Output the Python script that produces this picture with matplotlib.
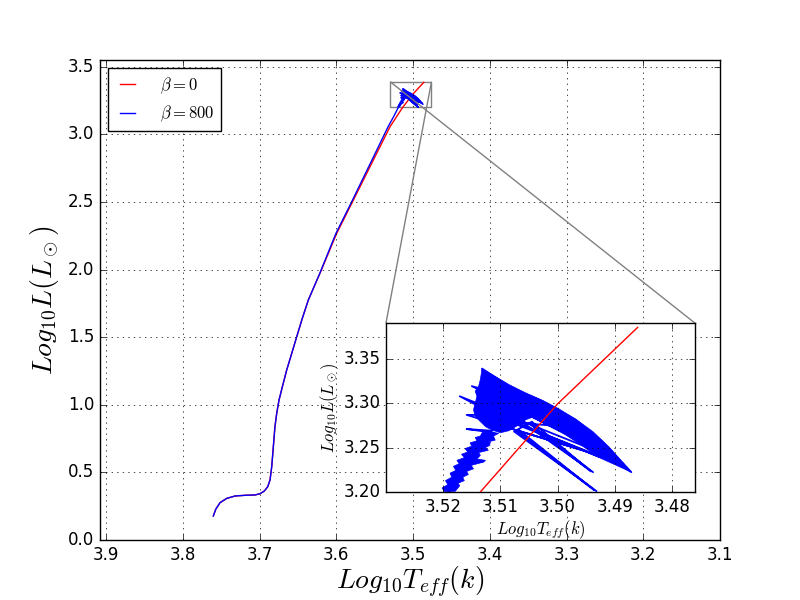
import numpy as np
import matplotlib
matplotlib.use('Agg')
import matplotlib.pyplot as plt
from mpl_toolkits.axes_grid1.inset_locator import mark_inset

plt.style.use('classic')

# beta = 0 track
teff_0 = [3.7603, 3.7572, 3.7516, 3.7428, 3.7320, 3.7190, 3.7060, 3.6994, 3.6938,
          3.6894, 3.6864, 3.6842, 3.6821, 3.6800, 3.6777, 3.6747, 3.6703, 3.6647,
          3.6581, 3.6516, 3.6443, 3.6365, 3.6213, 3.5995, 3.5799, 3.5561, 3.5300,
          3.5135, 3.5000, 3.4860]
lum_0 = [0.1775, 0.227, 0.276, 0.308, 0.3254, 0.3306, 0.333, 0.3425, 0.3624,
         0.394, 0.444, 0.542, 0.690, 0.838, 0.937, 1.035, 1.134, 1.257,
         1.381, 1.504, 1.640, 1.775, 1.973, 2.268, 2.490, 2.761, 3.057,
         3.200, 3.299, 3.385]

# beta = 800 track: smooth part, noisy tail, then the knot near the tip
teff_800 = [3.7603, 3.7572, 3.7516, 3.7428, 3.7320, 3.7190, 3.7060, 3.6994, 3.6938,
            3.6894, 3.6864, 3.6842, 3.6821, 3.6800, 3.6777, 3.6747, 3.6703, 3.6647,
            3.6581, 3.6516, 3.6443, 3.6365, 3.6215, 3.6005, 3.5810, 3.5578, 3.5325,
            3.5245,
            3.5191, 3.5181, 3.5194, 3.5176, 3.5188, 3.5171, 3.5182, 3.5166, 3.5178,
            3.5162, 3.5174, 3.5157, 3.5168, 3.5153, 3.5163, 3.5132, 3.5159, 3.5147,
            3.5156, 3.5139, 3.5151, 3.5135, 3.5147, 3.5131, 3.5144, 3.5118, 3.5138,
            3.5124, 3.5134, 3.5115, 3.5129, 3.5112, 3.5159, 3.5115, 3.5109,
            3.5132, 3.5085, 3.5026, 3.4968, 3.4921, 3.4871, 3.5121, 3.4885, 3.5138,
            3.4909, 3.5150, 3.5085, 3.4921, 3.5171, 3.5126, 3.4927, 3.5144, 3.4938,
            3.5159, 3.5115, 3.4956, 3.5132, 3.4997, 3.5109, 3.5015, 3.5103, 3.5038,
            3.5068,
            3.5056, 3.4938, 3.5050, 3.4942, 3.5045,
            3.5076, 3.4932, 3.5072, 3.4936, 3.5068]
lum_800 = [0.1775, 0.227, 0.276, 0.308, 0.3254, 0.3306, 0.333, 0.3425, 0.3624,
           0.394, 0.444, 0.542, 0.690, 0.838, 0.937, 1.035, 1.134, 1.257,
           1.381, 1.504, 1.640, 1.775, 1.973, 2.268, 2.490, 2.761, 3.057,
           3.140,
           3.2007, 3.2030, 3.2053, 3.2075, 3.2098, 3.2121, 3.2143, 3.2166, 3.2189,
           3.2212, 3.2234, 3.2257, 3.2280, 3.2303, 3.2325, 3.2341, 3.2356, 3.2378,
           3.2401, 3.2424, 3.2447, 3.2469, 3.2492, 3.2515, 3.2538, 3.2553, 3.2568,
           3.2591, 3.2613, 3.2629, 3.2651, 3.2666, 3.2708, 3.2689, 3.2716,
           3.3387, 3.3190, 3.3019, 3.2811, 3.2564, 3.2223, 3.3265, 3.2318, 3.3152,
           3.2413, 3.3190, 3.3076, 3.2432, 3.3076, 3.2924, 3.2394, 3.2962, 3.2432,
           3.2867, 3.2867, 3.2469, 3.2811, 3.2740, 3.3114, 3.2848, 3.3000, 3.2962,
           3.2924,
           3.2760, 3.2223, 3.2775, 3.2232, 3.2790,
           3.2680, 3.2010, 3.2690, 3.2020, 3.2700]

# outline of the dense knot of the beta = 800 track
knot_teff = [3.5132, 3.5115, 3.5085, 3.5056, 3.5026, 3.4997, 3.4968, 3.4938, 3.4909,
             3.4871, 3.4897, 3.4927, 3.4956, 3.4979, 3.5003, 3.5026, 3.5044, 3.5056,
             3.5068, 3.5085, 3.5100, 3.5115, 3.5126, 3.5135, 3.5144, 3.5147, 3.5144,
             3.5141, 3.5144, 3.5138, 3.5135]
knot_lum = [3.3387, 3.3322, 3.3208, 3.3114, 3.3030, 3.2932, 3.2818, 3.2678, 3.2500,
            3.2223, 3.2299, 3.2386, 3.2515, 3.2613, 3.2716, 3.2811, 3.2841, 3.2811,
            3.2754, 3.2689, 3.2666, 3.2697, 3.2735, 3.2792, 3.2848, 3.2924, 3.3000,
            3.3076, 3.3133, 3.3190, 3.3265]

# outline of the ragged tail leading into the knot
tail_teff = [3.5179, 3.5171, 3.5174, 3.5163, 3.5166, 3.5156, 3.5159, 3.5147, 3.5151,
             3.5129, 3.5126, 3.5141, 3.5135, 3.5138, 3.5121, 3.5126, 3.5118, 3.5121,
             3.5109, 3.5112, 3.5103,
             3.5126, 3.5132, 3.5135, 3.5144, 3.5141, 3.5153, 3.5150, 3.5162, 3.5157,
             3.5168, 3.5163, 3.5176, 3.5172, 3.5182, 3.5178, 3.5188, 3.5185, 3.5196,
             3.5192, 3.5202, 3.5198]
tail_lum = [3.2007, 3.2071, 3.2098, 3.2128, 3.2166, 3.2197, 3.2231, 3.2261, 3.2299,
            3.2337, 3.2356, 3.2371, 3.2413, 3.2443, 3.2469, 3.2500, 3.2526, 3.2564,
            3.2583, 3.2629, 3.2659,
            3.2689, 3.2666, 3.2629, 3.2613, 3.2575, 3.2553, 3.2515, 3.2488, 3.2450,
            3.2424, 3.2386, 3.2356, 3.2318, 3.2288, 3.2242, 3.2212, 3.2166, 3.2128,
            3.2083, 3.2045, 3.2007]

main_xticks = [3.9, 3.8, 3.7, 3.6, 3.5, 3.4, 3.3, 3.2, 3.1]
ins_xticks = [3.52, 3.51, 3.50, 3.49, 3.48]
ins_yticks = [3.20, 3.25, 3.30, 3.35]

fig = plt.figure(figsize=(8, 6), dpi=100, facecolor='white')
ax = fig.add_subplot(111)
ax.plot(teff_0, lum_0, 'r-', label=r'$\beta = 0$')
ax.plot(teff_800, lum_800, 'b-', label=r'$\beta = 800$')
ax.fill(knot_teff, knot_lum, color='b', lw=0.5)
ax.fill(tail_teff, tail_lum, color='b', lw=0.5)
ax.set_xlim(3.908, 3.1)
ax.set_ylim(0, 3.55)
ax.set_xticks(main_xticks)
ax.set_xlabel(r'$Log_{10}T_{eff}(k)$', fontsize=20, labelpad=1)
ax.set_ylabel(r'$Log_{10}L(L_\odot)$', fontsize=20)
ax.grid(True)
ax.legend(loc='upper left', fontsize=12, handlelength=1.5, handletextpad=1.2)

axins = fig.add_axes([0.4825, 0.18, 0.386, 0.2817])
axins.plot(teff_0, lum_0, 'r-', zorder=4)
axins.plot(teff_800, lum_800, 'b-', lw=1.3)
axins.fill(knot_teff, knot_lum, color='b', lw=0.5)
axins.fill(tail_teff, tail_lum, color='b', lw=0.5)
axins.set_xlim(3.53, 3.476)
axins.set_ylim(3.2, 3.39)
axins.set_xticks(ins_xticks)
axins.set_yticks(ins_yticks)
axins.xaxis.set_major_formatter(plt.FormatStrFormatter('%.2f'))
axins.yaxis.set_major_formatter(plt.FormatStrFormatter('%.2f'))
axins.set_xlabel(r'$Log_{10}T_{eff}(k)$', fontsize=12, labelpad=2)
axins.set_ylabel(r'$Log_{10}L(L_\odot)$', fontsize=12, labelpad=2)
axins.grid(True)
mark_inset(ax, axins, loc1=1, loc2=2, fc='none', ec='0.5')

fig.savefig('out.png', dpi=100, facecolor='white')
